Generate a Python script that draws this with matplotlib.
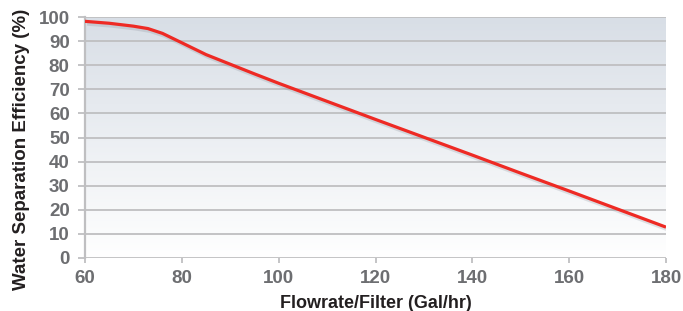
import numpy as np
import matplotlib
matplotlib.use("Agg")
import matplotlib.pyplot as plt
from matplotlib import font_manager
import matplotlib.patheffects as pe

flowrate = [60, 65, 70, 73, 76, 80, 85, 90, 95, 100, 110, 120, 130, 140, 150, 160, 170, 180]
efficiency = [98.2, 97.4, 96.2, 95.2, 93.2, 89.3, 84.4, 80.4, 76.4, 72.5, 65.0, 57.5, 50.1, 42.7, 35.2, 27.8, 20.3, 12.8]
x_ticks = [60, 80, 100, 120, 140, 160, 180]
y_ticks = [0, 10, 20, 30, 40, 50, 60, 70, 80, 90, 100]
x_label = "Flowrate/Filter (Gal/hr)"
y_label = "Water Separation Efficiency (%)"

names = {f.name for f in font_manager.fontManager.ttflist}
narrow = "Liberation Sans Narrow" if "Liberation Sans Narrow" in names else "Liberation Sans"
tick_font = "Liberation Sans"

fig = plt.figure(figsize=(6.83, 3.11), dpi=100)
ax = fig.add_axes([85/683, 1-258/311, (666-85)/683, (258-17)/311])

# gradient background
top = np.array([0.847, 0.871, 0.902])
bot = np.array([1.0, 1.0, 1.0])
t = np.linspace(0, 1, 256)[:, None]
grad = (top[None, :] * (1 - t) + bot[None, :] * t)[:, None, :]
ax.imshow(grad, extent=[60, 180, 0, 100], aspect="auto", origin="upper", zorder=0)

ax.set_xlim(60, 180)
ax.set_ylim(0, 100)

grid_c = "#bfbfc1"
for y in y_ticks:
    ax.axhline(y, color=grid_c, lw=1.3, zorder=1)

ax.plot(flowrate, efficiency, color="#ee2a24", lw=2.3, zorder=3, solid_capstyle="butt",
        path_effects=[pe.SimpleLineShadow(offset=(1.5, -2), shadow_color="#8a8f99", alpha=0.25), pe.Normal()])

for s in ["top", "right", "bottom"]:
    ax.spines[s].set_visible(False)
ax.spines["left"].set_color(grid_c)
ax.spines["left"].set_linewidth(1.6)

ax.set_xticks(x_ticks)
ax.set_yticks(y_ticks)
ax.tick_params(axis="y", length=5, width=1.3, color=grid_c, pad=6,
               labelsize=13.5, labelcolor="#6d6e71")
ax.tick_params(axis="x", length=3.5, width=1.3, color=grid_c, pad=5,
               labelsize=13.5, labelcolor="#6d6e71")
for lab in ax.get_xticklabels() + ax.get_yticklabels():
    lab.set_fontfamily(tick_font)
    lab.set_fontweight("bold")

ax.set_xlabel(x_label, fontsize=13, fontweight="bold", family=narrow, color="#231f20")
ax.xaxis.set_label_coords(0.5, -(295-258)/241, transform=ax.transAxes)
ax.xaxis.label.set_va("top")
ax.set_ylabel(y_label, fontsize=13.5, fontweight="bold", family=narrow, color="#231f20")
ax.yaxis.set_label_coords(-(85-30)/581, 0.45)

fig.savefig("out.png", dpi=100)
